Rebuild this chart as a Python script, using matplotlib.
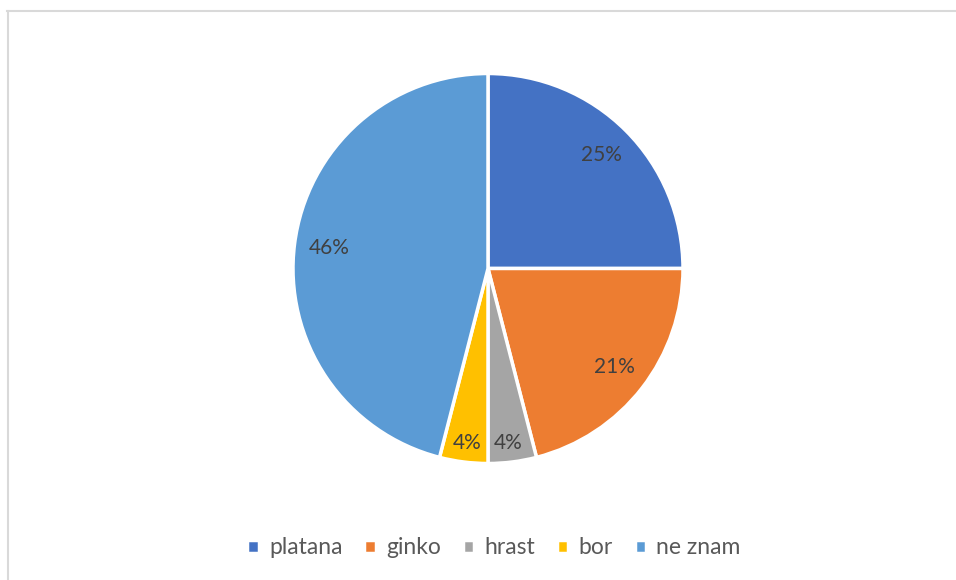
import numpy as np
import matplotlib.pyplot as plt
from matplotlib.lines import Line2D

labels = ['platana', 'ginko', 'hrast', 'bor', 'ne znam']
values = [25, 21, 4, 4, 46]
colors = ['#4472C4', '#ED7D31', '#A5A5A5', '#FFC000', '#5B9BD5']

plt.rcParams['font.family'] = ['Lato', 'DejaVu Sans']

W, H = 956, 580
fig = plt.figure(figsize=(W / 100, H / 100), dpi=100)

# pie centred at (488, 268.5) px, radius 195 px
cx, cy, r = 488, 268.5, 195
ax = fig.add_axes([(cx - r) / W, (H - cy - r) / H, 2 * r / W, 2 * r / H])
wedges, _ = ax.pie(values, colors=colors, startangle=90, counterclock=False,
                   wedgeprops=dict(edgecolor='white', linewidth=2.5))
ax.set_xlim(-1, 1)
ax.set_ylim(-1, 1)
ax.set_aspect('equal')

# percentage labels, small slices pushed further out
total = sum(values)
for w, v in zip(wedges, values):
    ang = np.deg2rad((w.theta1 + w.theta2) / 2)
    d = 0.9 if v / total < 0.1 else 0.82
    x, y = d * np.cos(ang), d * np.sin(ang)
    if v / total < 0.1:
        x = np.sign(x) * 0.105
    ax.text(x, y, f'{v / total:.0%}', ha='center', va='center',
            fontsize=15, color='#404040')

fig.legend(wedges, labels, loc='center', ncol=5, frameon=False,
           bbox_to_anchor=(494 / W, 1 - 548 / H), fontsize=16.5,
           handlelength=0.5, handleheight=0.5, handletextpad=0.45,
           columnspacing=0.95, labelcolor='#595959')

# chart area frame (top and left edges visible)
fig.add_artist(Line2D([7 / W, 1], [1 - 11 / H, 1 - 11 / H], color='#D9D9D9', lw=1.5))
fig.add_artist(Line2D([7.5 / W, 7.5 / W], [0, 1 - 11 / H], color='#D9D9D9', lw=1.5))

fig.savefig('out.png', dpi=100, facecolor='white')
